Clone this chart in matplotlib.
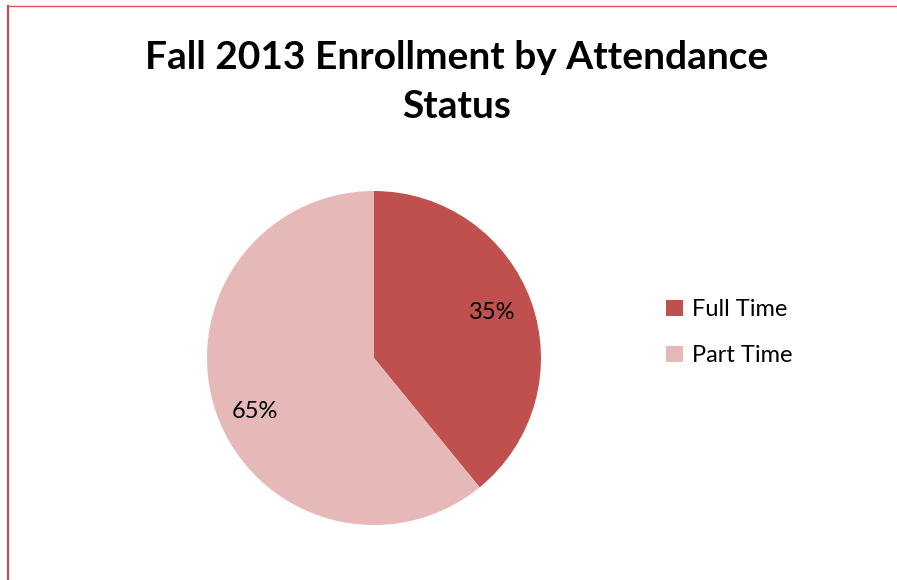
import matplotlib
matplotlib.use("Agg")
import matplotlib.pyplot as plt
from matplotlib.patches import Patch
from matplotlib.lines import Line2D

plt.rcParams['font.family'] = ['Lato', 'DejaVu Sans']

categories = ['Full Time', 'Part Time']
values = [39.1, 60.9]
pct_labels = ['35%', '65%']
colors = ['#C0504D', '#E6B9B8']
title = 'Fall 2013 Enrollment by Attendance\nStatus'

W, H = 897, 580
fig = plt.figure(figsize=(W / 100, H / 100), dpi=100)

# border (left and top)
fig.add_artist(Line2D([7.5 / W, 7.5 / W], [0, 1 - 6 / H], transform=fig.transFigure,
                      color='#C0504D', lw=1.6))
fig.add_artist(Line2D([7.5 / W, 1], [1 - 6 / H, 1 - 6 / H], transform=fig.transFigure,
                      color='#D9534F', lw=1.0))

cx, cy, r = 374, 358, 167
ax = fig.add_axes([(cx - r) / W, (H - cy - r) / H, 2 * r / W, 2 * r / H])
wedges, texts = ax.pie(values, labels=pct_labels, colors=colors, startangle=90,
                       counterclock=False, labeldistance=0.76,
                       textprops=dict(fontsize=17, color='black', ha='center', va='center'))
# small nudges to mimic the original label placement
x0, y0 = texts[0].get_position()
texts[0].set_position((x0 - 0.01, y0 + 0.02))
x1, y1 = texts[1].get_position()
texts[1].set_position((x1 + 0.0, y1 - 0.065))
ax.set_xlim(-1, 1)
ax.set_ylim(-1, 1)
ax.set_aspect('equal')
ax.axis('off')

fig.text(457 / W, 1 - 82 / H, title, ha='center', va='center', fontsize=28,
         fontweight='bold', linespacing=1.5)

handles = [Patch(facecolor=c, edgecolor='none') for c in colors]
fig.legend(handles, categories, loc='upper left', bbox_to_anchor=(657 / W, 1 - 290 / H),
           frameon=False, fontsize=17, handlelength=0.7, handleheight=0.7,
           handletextpad=0.4, labelspacing=1.05, borderaxespad=0)

fig.savefig('out.png', dpi=100, facecolor='white')
